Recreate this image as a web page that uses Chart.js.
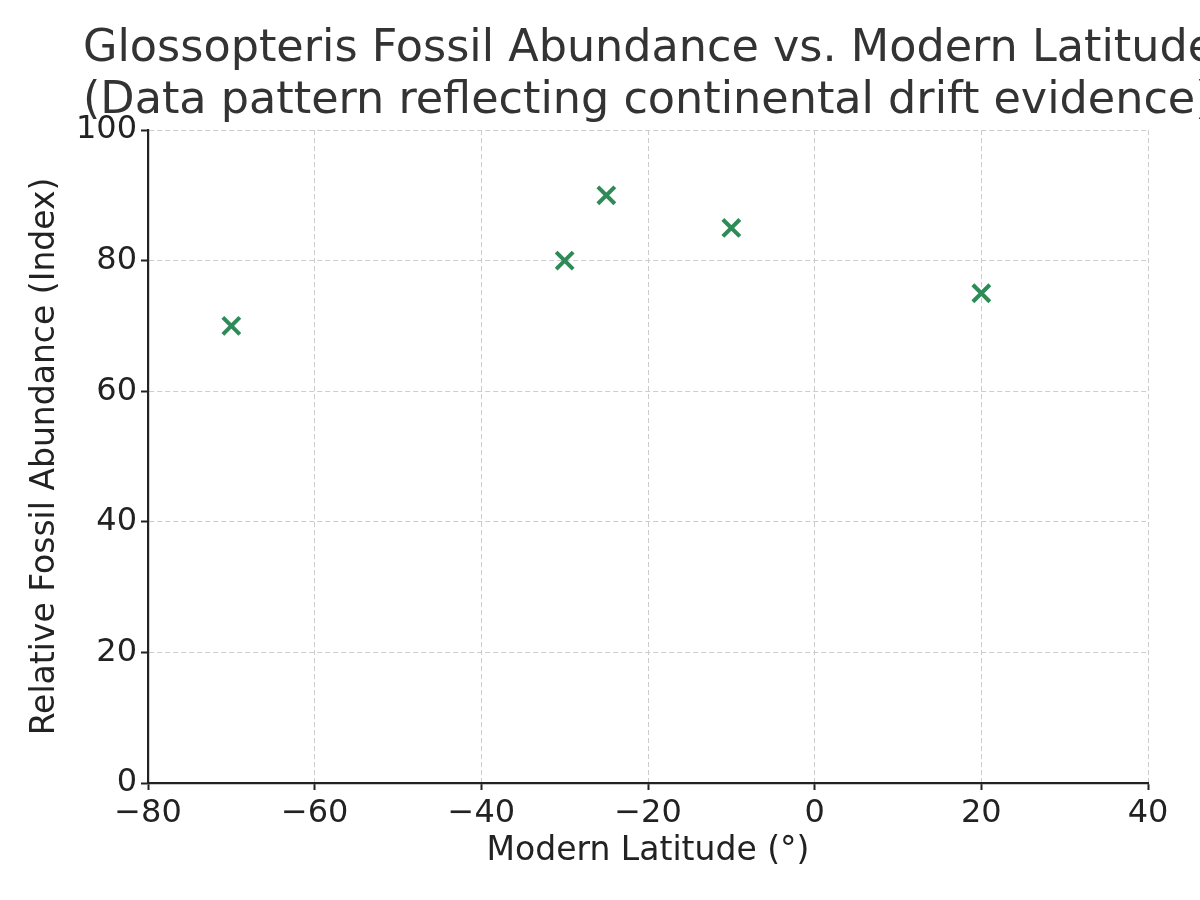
<!DOCTYPE html>
<html lang="en">
<head>
  <meta charset="UTF-8" />
  <title>Glossopteris Fossil Abundance</title>
  <style>
    body { margin: 0; background: #ffffff; }
    .wrap { width: 1200px; height: 900px; position: relative; }
  </style>
</head>
<body>
  <div class="wrap">
    <canvas id="fossilChart"></canvas>
  </div>

  <script src="https://cdn.jsdelivr.net/npm/chart.js"></script>
  <script>
    // data
    const latitudes = [-70, -30, -25, -10, 20];
    const abundance = [70, 80, 90, 85, 75];
    const titleLines = [
      "Glossopteris Fossil Abundance vs. Modern Latitude",
      "(Data pattern reflecting continental drift evidence)"
    ];
    const xLabel = "Modern Latitude (\u00b0)";
    const yLabel = "Relative Fossil Abundance (Index)";

    const FONT = "'DejaVu Sans', sans-serif";
    const minusFix = v => String(v).replace("-", "\u2212");

    // title is wider than the canvas in the original, so draw it by hand (no squeezing)
    const leftTitle = {
      id: "leftTitle",
      afterDraw(chart) {
        const ctx = chart.ctx;
        ctx.save();
        ctx.fillStyle = "#333333";
        ctx.font = "44.5px " + FONT;
        ctx.textBaseline = "middle";
        ctx.textAlign = "left";
        titleLines.forEach((line, i) => ctx.fillText(line, 83, 49 + i * 52));
        ctx.restore();
      }
    };

    const ctx = document.getElementById("fossilChart").getContext("2d");
    new Chart(ctx, {
      type: "scatter",
      data: {
        datasets: [{
          label: "Glossopteris",
          data: latitudes.map((x, i) => ({ x, y: abundance[i] })),
          pointStyle: "crossRot",
          radius: 12,
          hoverRadius: 12,
          borderWidth: 4,
          borderColor: "#2e8b57",
          backgroundColor: "#2e8b57"
        }]
      },
      options: {
        responsive: true,
        maintainAspectRatio: false,
        animation: false,
        layout: { padding: { left: 10, top: 130, right: 52, bottom: 10 } },
        plugins: {
          legend: { display: false },
          title: { display: false },
          tooltip: { enabled: false }
        },
        scales: {
          x: {
            type: "linear",
            min: -80,
            max: 40,
            afterFit: s => { s.height = 107; },
            ticks: {
              stepSize: 20,
              color: "#222222",
              padding: 4,
              font: { family: FONT, size: 32 },
              callback: minusFix
            },
            grid: {
              color: "#cccccc",
              lineWidth: 1,
              tickLength: 7,
              tickColor: "#222222",
              tickWidth: 2,
              tickBorderDash: []
            },
            border: { display: true, color: "#222222", width: 2.2, dash: [5, 3] },
            title: {
              display: true,
              text: xLabel,
              color: "#222222",
              font: { family: FONT, size: 33 },
              padding: { top: 0, bottom: 19 }
            }
          },
          y: {
            min: 0,
            max: 100,
            afterFit: s => { s.width = 138; },
            ticks: {
              stepSize: 20,
              color: "#222222",
              padding: 4,
              font: { family: FONT, size: 32 },
              callback: minusFix
            },
            grid: {
              color: "#cccccc",
              lineWidth: 1,
              tickLength: 7,
              tickColor: "#222222",
              tickWidth: 2,
              tickBorderDash: []
            },
            border: { display: true, color: "#222222", width: 2.2, dash: [5, 3] },
            title: {
              display: true,
              text: yLabel,
              color: "#222222",
              font: { family: FONT, size: 33 },
              padding: { top: 16, bottom: 0 }
            }
          }
        }
      },
      plugins: [leftTitle]
    });
  </script>
</body>
</html>
